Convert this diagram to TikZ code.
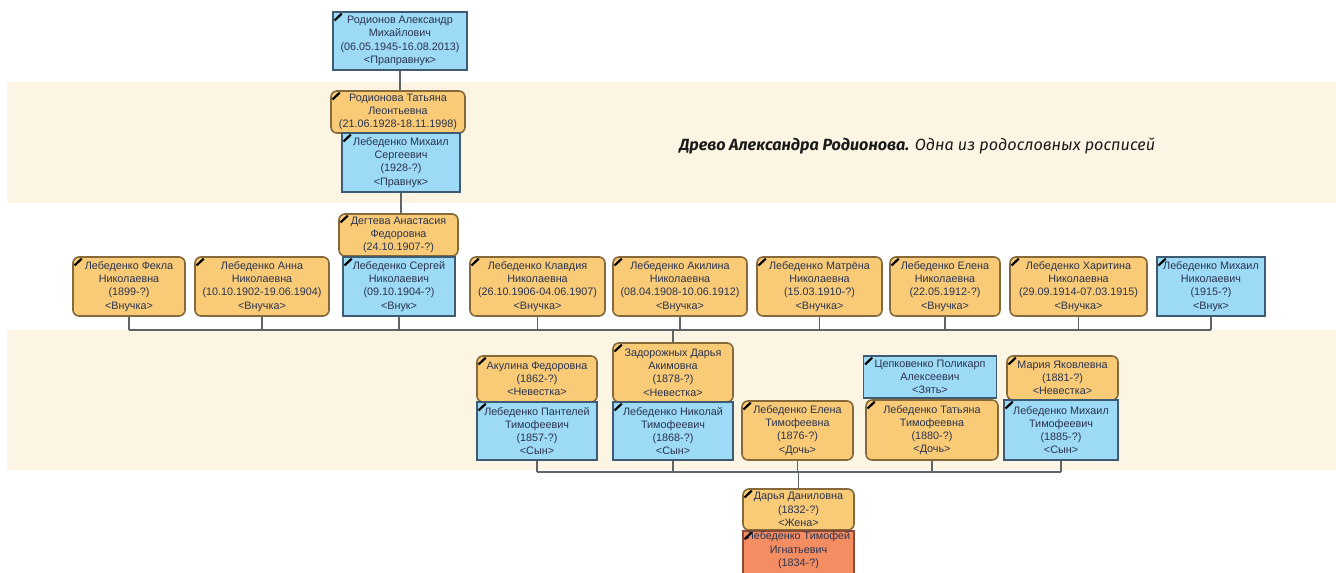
\documentclass[tikz,border=0pt]{standalone}
\usepackage{fontspec}
\setmainfont{Liberation Sans}
\newfontfamily\titlefont{Fira Sans}
\definecolor{bandc}{HTML}{FDF5E3}
\definecolor{bluef}{HTML}{9DDAF5}
\definecolor{blued}{HTML}{3E5B73}
\definecolor{orangef}{HTML}{F9CB77}
\definecolor{oranged}{HTML}{85693A}
\definecolor{redf}{HTML}{F58D62}
\definecolor{redd}{HTML}{8A4A35}
\definecolor{linec}{HTML}{5F6468}
\definecolor{txtc}{HTML}{2A3350}
\definecolor{titlec}{HTML}{1A1A1A}
\newcommand{\boxfont}{\fontsize{5.4}{6.6}\selectfont}
\tikzset{
  box/.style={draw, line width=0.8pt, align=center, inner sep=0.5pt, font=\boxfont, text=txtc,
    path picture={\draw[black, line width=1.1pt] ([xshift=0.8pt,yshift=-4.2pt]path picture bounding box.north west) -- ++(3.6pt,3.4pt);}},
  male/.style={box, fill=bluef, draw=blued},
  fem/.style={box, fill=orangef, draw=oranged, rounded corners=3pt},
  headbox/.style={box, fill=redf, draw=redd},
  sz/.style 2 args={minimum width=#1*0.5pt, minimum height=#2*0.5pt},
  conn/.style={draw=linec, line width=0.75pt},
  band/.style={fill=bandc, draw=none},
}
\begin{document}
\begin{tikzpicture}[x=0.5pt, y=-0.5pt]
\useasboundingbox (0,0) rectangle (1336,572);
\clip (0,0) rectangle (1336,572);
\fill[white] (0,0) rectangle (1336,572);
\fill[band] (7,82) rectangle (1336,203);
\fill[band] (7,330) rectangle (1336,470);

\coordinate (bus1) at (0,330);
\coordinate (bus2) at (0,472);

% generation 1
\node[male, sz={134}{58}] (rodA) at (400,41) {Родионов Александр\\Михайлович\\(06.05.1945-16.08.2013)\\<Праправнук>};
% generation 2
\node[fem, sz={134}{42}] (rodT) at (398,112) {Родионова Татьяна\\Леонтьевна\\(21.06.1928-18.11.1998)};
\node[male, sz={118}{59}] (lebMS) at (401,162.5) {Лебеденко Михаил\\Сергеевич\\(1928-?)\\<Правнук>};
% generation 3
\node[fem, sz={119}{42}] (degA) at (398.5,235) {Дегтева Анастасия\\Федоровна\\(24.10.1907-?)};
\node[fem, sz={112}{59}] (fekla) at (129,286.5) {Лебеденко Фекла\\Николаевна\\(1899-?)\\<Внучка>};
\node[fem, sz={134}{59}] (anna) at (262,286.5) {Лебеденко Анна\\Николаевна\\(10.10.1902-19.06.1904)\\<Внучка>};
\node[male, sz={112}{59}] (sergei) at (399,286.5) {Лебеденко Сергей\\Николаевич\\(09.10.1904-?)\\<Внук>};
\node[fem, sz={135}{59}] (klavdia) at (537.5,286.5) {Лебеденко Клавдия\\Николаевна\\(26.10.1906-04.06.1907)\\<Внучка>};
\node[fem, sz={134}{59}] (akilina) at (680,286.5) {Лебеденко Акилина\\Николаевна\\(08.04.1908-10.06.1912)\\<Внучка>};
\node[fem, sz={125}{59}] (matrena) at (819.5,286.5) {Лебеденко Матрёна\\Николаевна\\(15.03.1910-?)\\<Внучка>};
\node[fem, sz={110}{59}] (elenaN) at (945,286.5) {Лебеденко Елена\\Николаевна\\(22.05.1912-?)\\<Внучка>};
\node[fem, sz={137}{59}] (kharitina) at (1078.5,286.5) {Лебеденко Харитина\\Николаевна\\(29.09.1914-07.03.1915)\\<Внучка>};
\node[male, sz={108}{59}] (mikhN) at (1211,286.5) {Лебеденко Михаил\\Николаевич\\(1915-?)\\<Внук>};
% generation 4
\node[fem, sz={120}{46}] (akulF) at (537,379) {Акулина Федоровна\\(1862-?)\\<Невестка>};
\node[male, sz={120}{58}] (pantT) at (537,431) {Лебеденко Пантелей\\Тимофеевич\\(1857-?)\\<Сын>};
\node[fem, sz={120}{59}] (zadD) at (673,372.5) {Задорожных Дарья\\Акимовна\\(1878-?)\\<Невестка>};
\node[male, sz={120}{58}] (nikT) at (673,431) {Лебеденко Николай\\Тимофеевич\\(1868-?)\\<Сын>};
\node[fem, sz={111}{59}] (elenaT) at (797.5,430.5) {Лебеденко Елена\\Тимофеевна\\(1876-?)\\<Дочь>};
\node[male, sz={133}{42}] (tsepP) at (930,377) {Цепковенко Поликарп\\Алексеевич\\<Зять>};
\node[fem, sz={132}{60}] (tatT) at (932,430) {Лебеденко Татьяна\\Тимофеевна\\(1880-?)\\<Дочь>};
\node[fem, sz={111}{44}] (mariaY) at (1062.5,378) {Мария Яковлевна\\(1881-?)\\<Невестка>};
\node[male, sz={114}{60}] (mikhT) at (1061,430) {Лебеденко Михаил\\Тимофеевич\\(1885-?)\\<Сын>};
% generation 5
\node[fem, sz={111}{41}] (darD) at (798.5,509.5) {Дарья Даниловна\\(1832-?)\\<Жена>};
\node[headbox, sz={111}{46}, anchor=north] (timI) at (798.5,530) {Лебеденко Тимофей\\Игнатьевич\\(1834-?)\\\strut};

% connectors
\draw[conn] (rodA.south) -- (rodA.south |- rodT.north);
\draw[conn] (lebMS.south) -- (lebMS.south |- degA.north);
\foreach \n in {fekla,anna,sergei,klavdia,akilina,matrena,elenaN,kharitina,mikhN}
  \draw[conn] (\n.south) -- (\n.south |- bus1);
\draw[conn] (fekla.south |- bus1) -- (mikhN.south |- bus1);
\draw[conn] (zadD.north |- bus1) -- (zadD.north);
\foreach \n in {pantT,nikT,elenaT,tatT,mikhT}
  \draw[conn] (\n.south) -- (\n.south |- bus2);
\draw[conn] (pantT.south |- bus2) -- (mikhT.south |- bus2);
\draw[conn] (darD.north |- bus2) -- (darD.north);

% title
\node[anchor=base west, inner sep=0pt, text=titlec, font=\titlefont\itshape\fontsize{8.1}{10}\selectfont] (title) at (679,151)
  {\textbf{Древо Александра Родионова.} Одна из родословных росписей};
\end{tikzpicture}
\end{document}
